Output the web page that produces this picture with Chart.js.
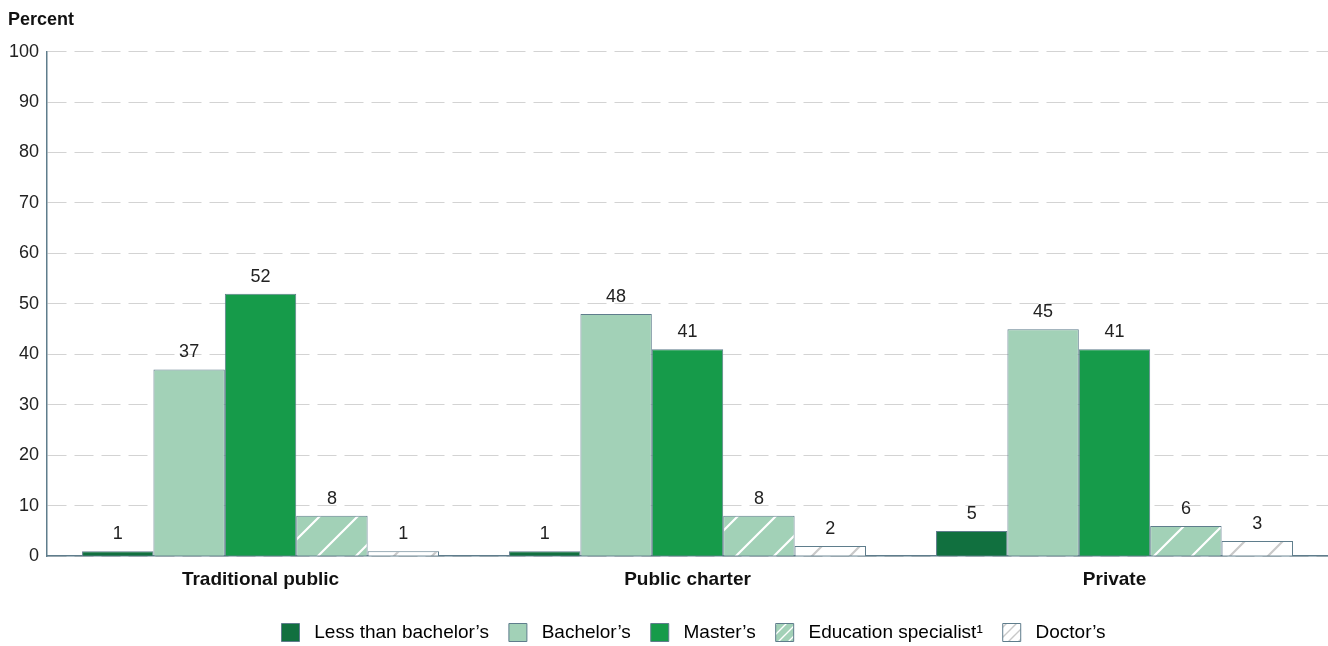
<!DOCTYPE html>
<html>
<head>
<meta charset="utf-8">
<script src="https://cdn.jsdelivr.net/npm/chart.js@4/dist/chart.umd.min.js"></script>
<style>
  body { margin: 0; background: #fff; }
  #wrap { width: 1328px; height: 646px; position: relative; }
</style>
</head>
<body>
<div id="wrap"><canvas id="degreeChart"></canvas></div>
<script>
// School types and degree shares (percent of teachers)
const schoolTypes = ['Traditional public', 'Public charter', 'Private'];
const degreeNames = ['Less than bachelor\u2019s', 'Bachelor\u2019s', 'Master\u2019s', 'Education specialist\u00b9', 'Doctor\u2019s'];
const lessThanBachelors = [1, 1, 5];
const bachelors = [37, 48, 45];
const masters = [52, 41, 41];
const eduSpecialist = [8, 8, 6];
const doctors = [1, 2, 3];
const yTicks = [0, 10, 20, 30, 40, 50, 60, 70, 80, 90, 100];

const FONT = "'Liberation Sans', Arial, sans-serif";
const EDGE = '#5f7d8c';

// diagonal hatch fill, stripes running bottom-left to top-right
function hatch(bg, stripe, size, width) {
  const c = document.createElement('canvas');
  c.width = size; c.height = size;
  const g = c.getContext('2d');
  g.fillStyle = bg;
  g.fillRect(0, 0, size, size);
  g.strokeStyle = stripe;
  g.lineWidth = width;
  g.beginPath();
  g.moveTo(-2, size + 2); g.lineTo(size + 2, -2);
  g.moveTo(-2, 2); g.lineTo(2, -2);
  g.moveTo(size - 2, size + 2); g.lineTo(size + 2, size - 2);
  g.stroke();
  return g.createPattern(c, 'repeat');
}

const ctx = document.getElementById('degreeChart').getContext('2d');
const fills = [
  '#11703f',
  '#a2d1b7',
  '#169b4a',
  hatch('#a2d1b7', '#ffffff', 38, 2.2),
  hatch('#ffffff', '#c9c9c9', 38, 2.2)
];
const legendFills = [
  fills[0], fills[1], fills[2],
  hatch('#a2d1b7', '#ffffff', 10, 1.4),
  hatch('#ffffff', '#c9c9c9', 10, 1.4)
];
const series = [lessThanBachelors, bachelors, masters, eduSpecialist, doctors];

// value labels above each bar
const barLabels = {
  id: 'barLabels',
  afterDatasetsDraw(chart) {
    const c = chart.ctx;
    c.save();
    c.font = '18px ' + FONT;
    c.fillStyle = '#222';
    c.textAlign = 'center';
    c.textBaseline = 'bottom';
    chart.data.datasets.forEach((ds, i) => {
      chart.getDatasetMeta(i).data.forEach((bar, j) => {
        c.fillText(String(ds.data[j]), bar.x, bar.y - 8);
      });
    });
    c.restore();
  }
};

// legend row sits under the plot area (a touch right of centre); title lines up with tick labels
const nudge = {
  id: 'nudge',
  afterLayout(chart) {
    const lg = chart.legend;
    const dx = (chart.chartArea.left + chart.chartArea.right) / 2 + 6 - (lg.left + lg.right) / 2;
    lg.left += dx;
    lg.right += dx;
    chart.titleBlock.left += 7;
    chart.titleBlock.right += 7;
  }
};

new Chart(ctx, {
  type: 'bar',
  data: {
    labels: schoolTypes,
    datasets: series.map((vals, i) => ({
      label: degreeNames[i],
      data: vals,
      backgroundColor: fills[i],
      borderColor: EDGE,
      borderWidth: 1,
      categoryPercentage: 0.836,
      barPercentage: 1
    }))
  },
  options: {
    responsive: true,
    maintainAspectRatio: false,
    animation: false,
    layout: { padding: { left: 1, right: 0, top: 0, bottom: -6 } },
    plugins: {
      tooltip: { enabled: false },
      title: {
        display: true,
        text: 'Percent',
        align: 'start',
        color: '#111',
        font: { family: FONT, size: 18, weight: 'bold' },
        padding: { top: 9, bottom: 21 }
      },
      legend: {
        position: 'bottom',
        labels: {
          boxWidth: 18,
          boxHeight: 18,
          padding: 20,
          color: '#222',
          font: { family: FONT, size: 19 },
          generateLabels(chart) {
            return chart.data.datasets.map((ds, i) => ({
              text: ' ' + ds.label,
              fillStyle: legendFills[i],
              strokeStyle: EDGE,
              lineWidth: 1,
              datasetIndex: i
            }));
          }
        }
      }
    },
    scales: {
      x: {
        grid: { display: false, drawTicks: false },
        border: { color: EDGE, width: 1.5 },
        ticks: {
          color: '#111',
          padding: 12,
          font: { family: FONT, size: 19, weight: 'bold', lineHeight: 1.2 }
        }
      },
      y: {
        min: 0,
        max: 100,
        afterBuildTicks(axis) { axis.ticks = yTicks.map(v => ({ value: v })); },
        grid: { color: '#d3d3d3', lineWidth: 1, drawTicks: false },
        border: { color: EDGE, width: 1.5, dash: [19, 8] },
        ticks: {
          color: '#222',
          padding: 8,
          font: { family: FONT, size: 18 }
        }
      }
    }
  },
  plugins: [barLabels, nudge]
});
</script>
</body>
</html>
